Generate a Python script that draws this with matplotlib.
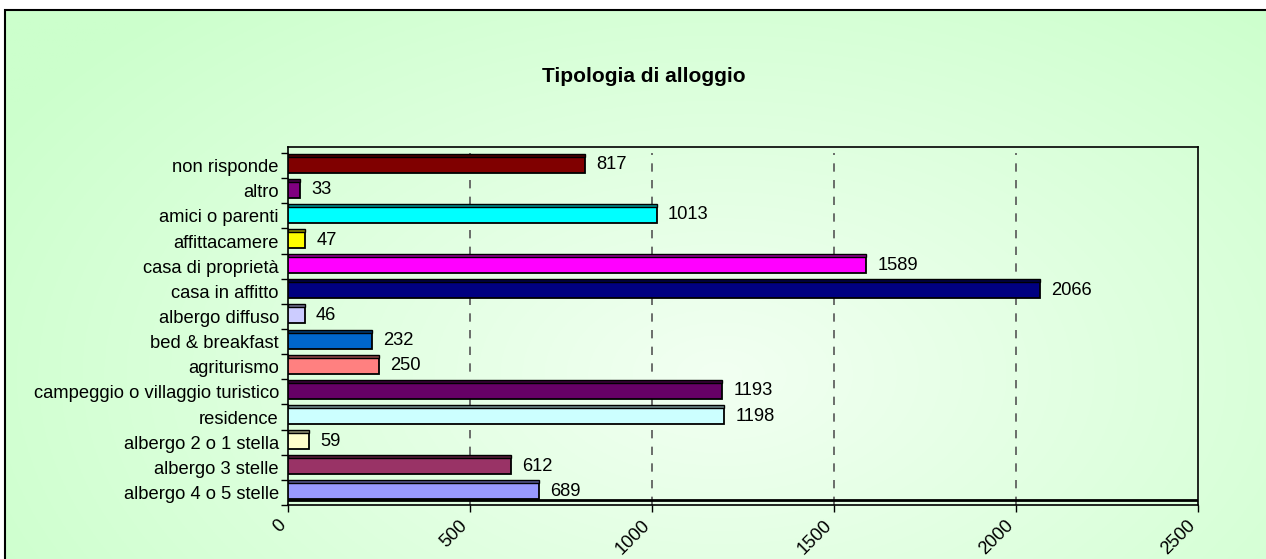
import numpy as np
import matplotlib
matplotlib.use("Agg")
import matplotlib.pyplot as plt
from matplotlib.patches import Rectangle
import matplotlib.colors as mcolors
import matplotlib.transforms as mtransforms

plt.rcParams['font.family'] = ['Liberation Sans', 'DejaVu Sans']

title = "Tipologia di alloggio"
categories = [
    "albergo 4 o 5 stelle", "albergo 3 stelle", "albergo 2 o 1 stella",
    "residence", "campeggio o villaggio turistico", "agriturismo",
    "bed & breakfast", "albergo diffuso", "casa in affitto",
    "casa di proprietà", "affittacamere", "amici o parenti", "altro",
    "non risponde",
]
values = [689, 612, 59, 1198, 1193, 250, 232, 46, 2066, 1589, 47, 1013, 33, 817]
colors = [
    "#9999FF", "#993366", "#FFFFCC", "#CCFFFF", "#660066", "#FF8080",
    "#0066CC", "#CCCCFF", "#000080", "#FF00FF", "#FFFF00", "#00FFFF",
    "#800080", "#800000",
]
xticks = [0, 500, 1000, 1500, 2000, 2500]

W, H = 1266, 559
fig = plt.figure(figsize=(W / 100, H / 100), dpi=100)
fig.patch.set_facecolor("white")

# background gradient
bg = fig.add_axes([5 / W, -0.2, 1.2, 1.2 - 10 / H], zorder=-10)
bg.set_axis_off()
ny, nx = 300, 600
yy, xx = np.mgrid[0:ny, 0:nx]
cx, cy = 0.47 * nx, 0.55 * ny
r = np.sqrt(((xx - cx) / (0.55 * nx)) ** 2 + ((yy - cy) / (0.75 * ny)) ** 2)
r = np.clip(r, 0, 1)
c_in = np.array(mcolors.to_rgb("#F2FFF2"))
c_out = np.array(mcolors.to_rgb("#CCFFCC"))
img = c_in[None, None, :] * (1 - r[..., None]) + c_out[None, None, :] * r[..., None]
bg.imshow(img, aspect="auto", extent=[0, 1, 0, 1], origin="upper")
bg.set_xlim(0, 1)
bg.set_ylim(0, 1)

# outer border
fig.add_artist(Rectangle((5 / W, -0.5), 2, 1.5 - 10 / H, transform=fig.transFigure,
                         fill=False, edgecolor="black", linewidth=1.5, zorder=-5))

ax = fig.add_axes([288 / W, 1 - 505 / H, (1198 - 288) / W, (505 - 147) / H])
ax.patch.set_alpha(0)

y = np.arange(len(categories))
ax.set_ylim(-0.5, 13.74)
ax.set_xlim(0, 2500)

# gridlines
for xv in xticks[1:-1]:
    ax.plot([xv, xv], [-0.5, 13.5], color="#555555", linestyle=(0, (5, 5)),
            linewidth=1.2, zorder=1)

# floor line
ax.plot([0, 2500], [-0.29, -0.29], color="black", linewidth=2, zorder=2)

# bars: front face and top strip
front_h = 0.64
off = 0.04
ax.barh(y + off, values, height=front_h, color=colors, edgecolor="black",
        linewidth=1.3, zorder=3)
darker = [tuple(np.array(mcolors.to_rgb(c)) * 0.55) for c in colors]
ax.barh(y + off + front_h / 2 + 0.06, values, height=0.12, color=darker,
        edgecolor="black", linewidth=1.0, zorder=3)

FS = 13.2
for yi, v in zip(y, values):
    ax.annotate(str(v), (v, yi + off), xytext=(8, 0), textcoords="offset points",
                ha="left", va="center", fontsize=FS, color="black", zorder=5)

ax.set_yticks(y)
ax.set_yticklabels(categories, fontsize=FS)
ax.set_yticks(np.arange(-0.5, 14, 1), minor=True)
ax.tick_params(axis="y", which="major", length=0, pad=6.5)
ax.tick_params(axis="y", which="minor", length=5, width=1, direction="out")
ax.set_xticks(xticks)
ax.set_xticklabels([str(t) for t in xticks], rotation=45, ha="right",
                   va="top", rotation_mode="anchor", fontsize=FS)
ax.tick_params(axis="x", length=5, width=1, direction="out", pad=2)
shift = mtransforms.ScaledTranslation(-11 / 100, -2 / 100, fig.dpi_scale_trans)
for lbl in ax.get_xticklabels():
    lbl.set_transform(lbl.get_transform() + shift)
for s in ax.spines.values():
    s.set_linewidth(1.2)
    s.set_color("black")

fig.text(644 / W, 1 - 76 / H, title, ha="center", va="center",
         fontsize=15, fontweight="bold")

fig.savefig("out.png", dpi=100)
